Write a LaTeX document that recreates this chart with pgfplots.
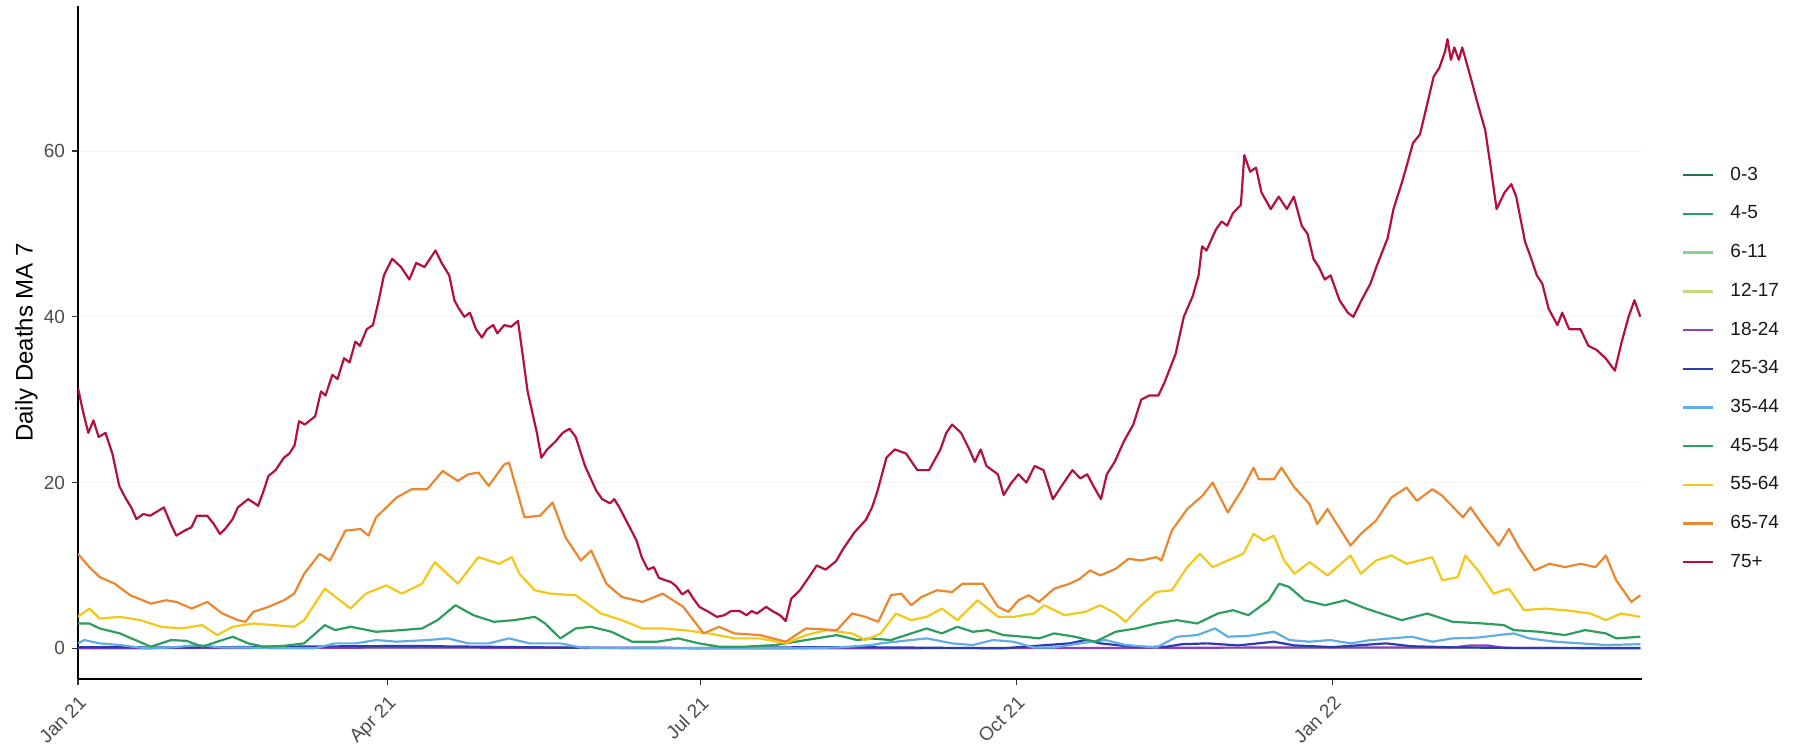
\documentclass[border=0pt]{standalone}
\usepackage{fontspec}
\setmainfont{Liberation Sans}
\usepackage{pgfplots}
\pgfplotsset{compat=1.18}
\definecolor{cA}{HTML}{23744C}
\definecolor{cB}{HTML}{27A065}
\definecolor{cC}{HTML}{8FD08F}
\definecolor{cD}{HTML}{C3DC78}
\definecolor{cE}{HTML}{8A3FC6}
\definecolor{cF}{HTML}{2A3CB0}
\definecolor{cG}{HTML}{62AEE4}
\definecolor{cH}{HTML}{2E9E5E}
\definecolor{cI}{HTML}{F3C81A}
\definecolor{cJ}{HTML}{EB872E}
\definecolor{cK}{HTML}{B3113C}
\begin{document}
\begin{tikzpicture}
\useasboundingbox (-39pt,-33pt) rectangle (860pt,339.5pt);
\begin{axis}[at={(0,0)}, anchor=south west, scale only axis,
  width=782pt, height=336.5pt,
  xmin=0, xmax=455, ymin=-3.7, ymax=77.5,
  axis x line=bottom, axis y line=left,
  x axis line style={-, black, line width=1.3pt},
  y axis line style={-, black, line width=0.8pt},
  xtick={0,90,181,273,365},
  xticklabels={Jan 21,Apr 21,Jul 21,Oct 21,Jan 22},
  ytick={0,20,40,60},
  tick align=outside, major tick length=3pt,
  tick style={black!80, line width=0.6pt},
  ymajorgrids, grid style={black!4, line width=0.5pt},
  xticklabel style={rotate=45, anchor=north east, font=\fontsize{9.5}{11}\selectfont, text=black!70},
  yticklabel style={font=\fontsize{9.5}{11}\selectfont, text=black!70},
  /pgf/number format/assume math mode=true,
  ylabel={Daily Deaths MA 7},
  every axis y label/.style={at={(axis description cs:-0.033,0.5)}, rotate=90, anchor=center, font=\fontsize{12}{14}\selectfont},
  legend cell align=left,
  legend style={draw=none, fill=none, at={(1.0256,0.461)}, anchor=west, inner sep=0pt, outer sep=0pt, row sep=10.35pt, font=\fontsize{9.5}{11}\selectfont, text=black!90, nodes={inner sep=0pt, text height=7pt, text depth=2pt}, /tikz/every odd column/.append style={column sep=8pt}},
  no markers, every axis plot/.append style={line width=1.1pt, line join=round},
  every axis plot post/.append style={legend image code/.code={\draw[#1, line width=1.2pt] (0pt,0pt) -- (15pt,0pt);}}
]
% 0-3
\addplot[cA] coordinates {(0,0)(60,0)(120,0)(180,0)(240,0)(300,0)(360,0)(420,0)(454.5,0)};
\addlegendentry{0-3}
% 4-5
\addplot[cB] coordinates {(0,0)(60,0)(120,0)(180,0)(240,0)(300,0)(360,0)(420,0)(454.5,0)};
\addlegendentry{4-5}
% 6-11
\addplot[cC] coordinates {(0,0)(60,0)(120,0)(180,0)(240,0)(300,0)(360,0)(420,0)(454.5,0)};
\addlegendentry{6-11}
% 12-17
\addplot[cD] coordinates {(0,0)(60,0)(120,0)(180,0)(240,0)(300,0)(360,0)(420,0)(454.5,0)};
\addlegendentry{12-17}
% 18-24
\addplot[cE] coordinates {(0,0)(100,0.1)(200,0)(300,0.05)(350,0.1)(400,0.1)(405,0.35)(410,0.35)(415,0.05)(454.5,0)};
\addlegendentry{18-24}
% 25-34
\addplot[cF] coordinates {(0,0.15)(30,0.1)(60,0.2)(100,0.3)(104,0.25)(140,0.1)(180,0.05)(220,0.15)(240,0.1)(269,0)(288.5,0.6)(293,1)(297.4,0.6)(307.8,0.15)(316.7,0.2)(321.2,0.5)(328.6,0.6)(337.5,0.35)(347.9,0.8)(353.9,0.35)(365,0.15)(380.6,0.6)(388,0.25)(402,0.1)(420,0.05)(454.5,0.05)};
\addlegendentry{25-34}
% 35-44
\addplot[cG] coordinates {(0,0.6)(1.8,1)(6.3,0.6)(12.2,0.4)(19.7,0)(27.1,0.1)(34.6,0.4)(42,0.1)(49.5,0.1)(56.9,0)(68.8,0)(74.8,0.6)(80.8,0.6)(86.7,1)(92.7,0.8)(101.6,1)(107.6,1.2)(113.5,0.6)(119.5,0.6)(125.4,1.2)(131.4,0.6)(140.3,0.6)(146.3,0.1)(161.2,0)(176.1,0)(191,0)(205.9,0)(220.8,0.1)(230.9,0.4)(233.5,0.6)(242.4,1)(246.9,1.2)(254.3,0.6)(260.3,0.4)(266.2,1)(272.1,0.8)(278.1,0.1)(284,0.1)(291.5,0.6)(298.9,1)(304.8,0.4)(313.7,0.1)(319.7,1.4)(325.6,1.6)(330.8,2.4)(334.5,1.4)(340.5,1.5)(347.9,2)(352.4,1)(358.3,0.8)(364.3,1)(370.2,0.6)(376.1,1)(382.1,1.2)(388,1.4)(394,0.8)(399.9,1.2)(407.3,1.3)(413.3,1.6)(417.7,1.8)(422.2,1.2)(429.6,0.8)(437.1,0.6)(444.5,0.4)(454.5,0.5)};
\addlegendentry{35-44}
% 45-54
\addplot[cH] coordinates {(0,3)(3.3,3)(6.3,2.4)(12.2,1.8)(16.7,1)(21.2,0.2)(27.1,1)(31.6,0.9)(36.1,0.2)(42,1)(45,1.4)(49.5,0.6)(54,0.2)(59.9,0.3)(65.8,0.6)(71.8,2.8)(74.8,2.2)(79.3,2.6)(86.7,2)(94.2,2.2)(100.1,2.4)(104.6,3.4)(109.8,5.2)(115,4)(121,3.2)(126.9,3.4)(132.9,3.8)(135.9,3)(140.3,1.2)(144.8,2.4)(149.3,2.6)(155.2,2)(161.2,0.8)(168.6,0.8)(174.6,1.2)(180.6,0.6)(186.5,0.2)(194,0.2)(202.9,0.4)(208.9,0.8)(214.8,1.2)(220.8,1.6)(226.7,1)(230.5,1.2)(236.5,1)(242.4,1.8)(246.9,2.4)(251.3,1.8)(255.8,2.6)(260.3,2)(264.7,2.2)(269.2,1.6)(275.1,1.4)(279.6,1.2)(284,1.8)(290,1.4)(295.9,0.8)(301.9,2)(307.8,2.4)(313.7,3)(319.7,3.4)(325.6,3)(331.6,4.2)(336,4.6)(340.5,4)(346.4,5.8)(349.4,7.8)(352.4,7.4)(356.8,5.8)(362.8,5.2)(368.7,5.8)(374.7,4.8)(379.1,4.2)(385.1,3.4)(392.5,4.2)(399.9,3.2)(408.8,3)(414.8,2.8)(417.7,2.2)(425.2,2)(432.6,1.6)(438.5,2.2)(444.5,1.8)(447.5,1.2)(454.5,1.4)};
\addlegendentry{45-54}
% 55-64
\addplot[cI] coordinates {(0,3.8)(3.3,4.8)(6.3,3.6)(12.2,3.8)(18.2,3.4)(24.1,2.6)(30.1,2.4)(36.1,2.8)(40.5,1.6)(45,2.6)(51,3)(56.9,2.8)(62.9,2.6)(65.8,3.4)(71.8,7.2)(79.3,4.8)(83.7,6.6)(89.7,7.6)(94.2,6.6)(100.1,7.8)(103.8,10.4)(110.5,7.8)(116.5,11)(122.5,10.2)(126.2,11)(128.4,9)(132.9,7)(137.4,6.6)(144.8,6.4)(152.2,4.2)(158.2,3.4)(164.2,2.4)(170.1,2.4)(176.1,2.2)(183.5,1.8)(191,1.2)(198.4,1.2)(205.9,0.6)(211.8,1.6)(217.8,2.2)(225.2,1.8)(229.1,1)(233.5,1.8)(238,4.2)(242.4,3.4)(246.9,3.8)(251.3,4.8)(255.8,3.4)(261.7,5.8)(267.7,3.8)(272.1,3.8)(278.1,4.2)(281.1,5.2)(287,4)(293,4.4)(297.4,5.2)(301.9,4.2)(304.8,3.2)(309.3,5.2)(313.7,6.8)(318.2,7)(322.7,9.8)(326.4,11.4)(330.1,9.8)(334.5,10.6)(339,11.4)(342,13.8)(345,13)(347.9,13.6)(350.9,10.6)(353.9,9)(358.3,10.4)(363.5,8.8)(370.2,11.2)(373.2,9)(377.6,10.6)(382.1,11.2)(386.5,10.2)(394,11)(396.9,8.2)(401.4,8.6)(403.6,11.2)(407.3,9.4)(411.8,6.6)(416.3,7.2)(420.7,4.6)(426.6,4.8)(432.6,4.6)(440,4.2)(444.5,3.4)(448.9,4.2)(454.5,3.8)};
\addlegendentry{55-64}
% 65-74
\addplot[cJ] coordinates {(0,11.4)(3.3,9.8)(6.3,8.6)(10.7,7.8)(15.2,6.4)(21.2,5.4)(25.6,5.8)(28.6,5.6)(33.1,4.8)(37.6,5.6)(42,4.2)(46.5,3.4)(48.7,3.2)(51,4.4)(55.4,5)(59.9,5.8)(62.9,6.6)(65.8,9)(70.3,11.4)(73.3,10.6)(77.8,14.2)(82.2,14.4)(84.5,13.6)(86.7,15.8)(92.7,18.2)(97.1,19.2)(101.6,19.2)(106.1,21.4)(110.5,20.2)(113.5,21)(116.5,21.2)(119.5,19.6)(124,22.2)(125.4,22.4)(129.9,15.8)(134.4,16)(138.1,17.6)(141.8,13.4)(146.3,10.6)(149.3,11.8)(153.7,7.8)(158.2,6.2)(164.2,5.6)(170.1,6.6)(176.1,5)(182,1.8)(186.5,2.6)(191,1.8)(198.4,1.6)(205.9,0.8)(211.8,2.4)(220.8,2.2)(225.2,4.2)(229.1,3.8)(232.8,3.2)(236.5,6.4)(239.5,6.6)(242.4,5.2)(245.4,6.2)(249.9,7)(254.3,6.8)(257.3,7.8)(263.2,7.8)(267.7,5)(270.7,4.4)(273.6,5.8)(276.6,6.4)(279.6,5.6)(284,7.2)(288.5,7.8)(291.5,8.4)(294.4,9.4)(297.4,8.8)(301.9,9.6)(305.6,10.8)(309.3,10.6)(313.7,11)(315.2,10.6)(318.2,14.2)(322.7,16.8)(327.1,18.4)(330.1,20)(334.5,16.4)(339,19.4)(342,21.8)(343.5,20.4)(347.9,20.4)(350.1,21.8)(353.9,19.4)(358.3,17.4)(360.5,15)(363.5,16.8)(370.2,12.4)(373.2,13.8)(377.6,15.4)(382.1,18.2)(386.5,19.4)(389.5,17.8)(394,19.2)(396.9,18.4)(402.9,15.8)(405.1,17)(408.8,14.8)(413.3,12.4)(416.3,14.4)(419.2,12.2)(423.7,9.4)(428.1,10.2)(432.6,9.8)(437.1,10.2)(441.5,9.8)(444.5,11.2)(447.5,8.2)(451.9,5.6)(454.5,6.4)};
\addlegendentry{65-74}
% 75+
\addplot[cK] coordinates {(0,31.4)(1.5,28.5)(3,26)(4.5,27.5)(6,25.5)(8,26)(10,23.5)(12,19.6)(14,18)(15.5,17)(17,15.6)(19,16.2)(21,16)(23,16.5)(25,17)(27,15)(28.6,13.6)(31,14.2)(33,14.6)(34.6,16)(37.6,16)(39.5,15)(41.3,13.8)(43,14.5)(45,15.6)(46.5,17)(48,17.5)(49.5,18)(51,17.6)(52.4,17.2)(54,19)(55.4,20.8)(57.5,21.5)(59.9,23)(61.5,23.5)(63,24.5)(64.3,27.4)(66,27)(69,28)(70.7,31)(72,30.5)(74,33)(75.5,32.5)(77.4,35)(79,34.5)(80.7,37)(82,36.5)(84,38.5)(85.8,39)(87.5,42)(89,45)(91.4,47)(94,46)(96.4,44.5)(98.4,46.5)(100.8,46)(104,48)(105.8,46.5)(108,45)(109.5,42)(110.8,41)(112.4,40)(114,40.5)(115.8,38.5)(117.5,37.5)(119,38.5)(120.8,39)(122,38)(124,39)(126,38.8)(128,39.5)(129.5,35)(130.8,31)(133.5,26)(134.8,23)(136.5,24)(139,25)(141,26)(143,26.5)(144.8,25.5)(147.5,22)(150.8,19)(152.5,18)(154.8,17.5)(156,18)(157.5,17)(160,15)(162.5,13)(164,11)(165.8,9.5)(167.5,9.8)(169,8.5)(171,8.2)(172.5,8)(174,7.5)(175.8,6.5)(177.5,7)(179,6)(180.8,5)(183,4.5)(185.9,3.8)(188,4)(190,4.5)(192.5,4.5)(194.5,4)(196,4.5)(197.5,4.2)(200.2,5)(202,4.5)(204.2,4)(205.9,3.3)(207.5,6)(210,7)(212.5,8.5)(214.9,10)(217.5,9.5)(219,10)(220.5,10.5)(222.6,12)(225.9,14)(229.2,15.5)(231,17)(232.6,19)(235.2,23)(237.6,24)(240.9,23.5)(244.2,21.5)(247.6,21.5)(250.9,24)(252.6,26)(254.3,27)(256.9,26)(259.3,24)(260.9,22.5)(262.6,24)(264.3,22)(267.6,21)(269.3,18.5)(271.6,20)(273.6,21)(275.9,20)(278.3,22)(280.9,21.5)(283.6,18)(286,19.5)(289.3,21.5)(291.6,20.5)(293.6,21)(295.5,19.5)(297.6,18)(299.3,21)(301.6,22.5)(304.3,25)(307,27)(309.3,30)(311.6,30.5)(314.3,30.5)(316,32)(319.3,35.5)(321.7,40)(324.3,42.5)(326,45)(327,48.5)(328.3,48)(331,50.5)(332.7,51.5)(334.3,51)(336,52.5)(338.3,53.5)(339.3,59.5)(341,57.5)(342.7,58)(344.3,55)(347,53)(349.3,54.5)(351.7,53)(353.7,54.5)(356,51)(357.7,50)(359.4,47)(361,46)(362.7,44.5)(364.4,45)(367,42)(369.4,40.5)(371,40)(373.4,42)(376,44)(377.7,46)(381,49.5)(382.7,53)(385,56)(386.4,58)(388.4,61)(390.4,62)(392.7,66)(394.4,69)(396,70)(397.7,72)(398.4,73.5)(399.4,71)(400.4,72.5)(401.7,71)(402.7,72.5)(404.4,70)(405.4,68.5)(407,66)(409.4,62.5)(411,58)(412.7,53)(415,55)(417,56)(418.4,54.5)(421,49)(422.8,47)(424.4,45)(426,44)(427.8,41)(430.4,39)(431.8,40.5)(433.8,38.5)(437.1,38.5)(439.4,36.5)(441.8,36)(444.4,35)(447.1,33.5)(449.1,37)(451.1,40)(452.8,42)(454.5,40)};
\addlegendentry{75+}
\end{axis}
\end{tikzpicture}
\end{document}
